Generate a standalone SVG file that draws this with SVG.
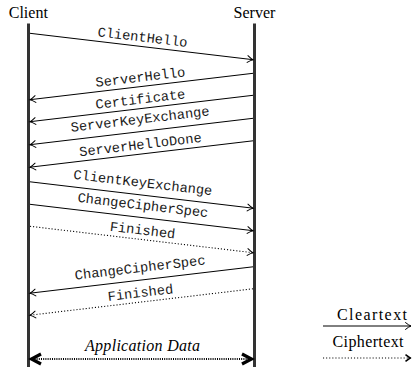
<svg xmlns="http://www.w3.org/2000/svg" width="413" height="369" viewBox="0 0 413 369">
<style>
.actor{font-family:'Liberation Serif','Times New Roman',serif;font-size:16px;fill:#000;text-anchor:middle}
.life{stroke:#333;stroke-width:3;fill:none}
.msg{stroke:#000;stroke-width:1;fill:none}
.dot{stroke:#000;stroke-width:1.1;fill:none;stroke-dasharray:1.1 2}
.lbl{font-family:'Liberation Mono','DejaVu Sans Mono',monospace;font-size:13.7px;fill:#1a1a1a;text-anchor:middle}
.app{stroke:#000;stroke-width:1.8;fill:none;stroke-dasharray:1 1.2}
.it{font-family:'Liberation Serif','Times New Roman',serif;font-style:italic;font-size:16px;fill:#000;text-anchor:middle}
.head{fill:none;stroke:#000;stroke-width:3.2}
</style>
<defs>
<marker id="ah" markerUnits="userSpaceOnUse" viewBox="-7 -5 8 10" refX="0" refY="0" markerWidth="8" markerHeight="10" orient="auto" overflow="visible">
<path d="M-5.5,-3.4 Q-2,-0.6 0,0 Q-2,0.6 -5.5,3.4" fill="none" stroke="#000" stroke-width="1" stroke-linecap="round"/>
</marker>
<marker id="ahb" markerUnits="userSpaceOnUse" viewBox="-7 -5 8 10" refX="0" refY="0" markerWidth="8" markerHeight="10" orient="auto" overflow="visible">
<path d="M-5.5,-3.4 L-0.8,0 L-5.5,3.4" fill="none" stroke="#000" stroke-width="1.6"/>
</marker>
<marker id="big" markerUnits="userSpaceOnUse" viewBox="-14 -7 15 14" refX="0" refY="0" markerWidth="15" markerHeight="14" orient="auto-start-reverse" overflow="visible">
<path d="M-11,-5 L-1.5,0 L-11,5" class="head"/>
</marker>
</defs>

<g id="client">
<text class="actor" x="28.3" y="18">Client</text>
<line class="life" x1="28.5" y1="23.5" x2="28.5" y2="367"/>
</g>
<g id="server">
<text class="actor" x="254.5" y="18">Server</text>
<line class="life" x1="254.5" y1="23.5" x2="254.5" y2="367"/>
</g>

<g id="connectors">
<g id="m1">
<line class="msg" x1="30" y1="33.3" x2="253" y2="59.7" marker-end="url(#ah)"/>
<text class="lbl" transform="translate(141.5,46.5) rotate(6.75)" y="-5">ClientHello</text>
</g>
<g id="m2">
<line class="msg" x1="253" y1="73.3" x2="30" y2="99.7" marker-end="url(#ah)"/>
<text class="lbl" transform="translate(141.5,86.5) rotate(-6.75)" y="-5">ServerHello</text>
</g>
<g id="m3">
<line class="msg" x1="253" y1="95.3" x2="30" y2="121.7" marker-end="url(#ah)"/>
<text class="lbl" transform="translate(141.5,108.5) rotate(-6.75)" y="-5">Certificate</text>
</g>
<g id="m4">
<line class="msg" x1="253" y1="118.3" x2="30" y2="144.7" marker-end="url(#ah)"/>
<text class="lbl" transform="translate(141.5,131.5) rotate(-6.75)" y="-8">ServerKeyExchange</text>
</g>
<g id="m5">
<line class="msg" x1="253" y1="140.8" x2="30" y2="167.2" marker-end="url(#ah)"/>
<text class="lbl" transform="translate(141.5,154) rotate(-6.75)" y="-5">ServerHelloDone</text>
</g>
<g id="m6">
<line class="msg" x1="30" y1="181.8" x2="253" y2="208.2" marker-end="url(#ah)"/>
<text class="lbl" transform="translate(141.5,195) rotate(6.75)" y="-8">ClientKeyExchange</text>
</g>
<g id="m7">
<line class="msg" x1="30" y1="204.3" x2="253" y2="230.7" marker-end="url(#ah)"/>
<text class="lbl" transform="translate(141.5,217.5) rotate(6.75)" y="-8">ChangeCipherSpec</text>
</g>
<g id="m8">
<line class="dot" x1="30" y1="226.3" x2="253" y2="252.7" marker-end="url(#ah)"/>
<text class="lbl" transform="translate(141.5,239.5) rotate(6.75)" y="-5">Finished</text>
</g>
<g id="m9">
<line class="msg" x1="253" y1="266.8" x2="30" y2="293.2" marker-end="url(#ah)"/>
<text class="lbl" transform="translate(141.5,280) rotate(-6.75)" y="-8">ChangeCipherSpec</text>
</g>
<g id="m10">
<line class="dot" x1="253" y1="288.8" x2="30" y2="315.2" marker-end="url(#ah)"/>
<text class="lbl" transform="translate(141.5,302) rotate(-6.75)" y="-5">Finished</text>
</g>
<g id="appdata">
<line class="app" x1="30" y1="359" x2="253" y2="359" marker-start="url(#big)" marker-end="url(#big)"/>
<text class="it" x="142.5" y="351" textLength="115" lengthAdjust="spacing">Application Data</text>
</g>
</g>

<g id="legend">
<text class="actor" x="372" y="320" textLength="70" lengthAdjust="spacing">Cleartext</text>
<line class="msg" x1="323" y1="326" x2="411" y2="326" marker-end="url(#ah)"/>
<text class="actor" x="368" y="347" textLength="71" lengthAdjust="spacing">Ciphertext</text>
<line class="dot" x1="323" y1="358" x2="411" y2="358" marker-end="url(#ahb)"/>
</g>
</svg>
